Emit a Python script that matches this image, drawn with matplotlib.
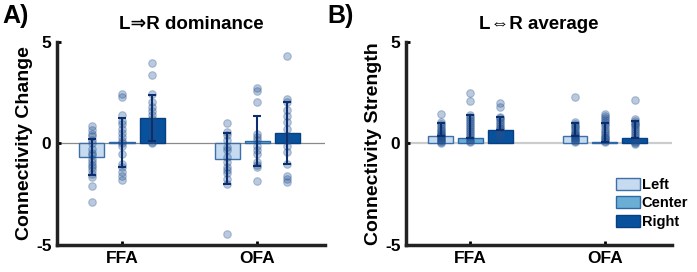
import matplotlib.pyplot as plt
import numpy as np

# fonts: Arial-like bold, fallback to DejaVu for the arrows
plt.rcParams['font.family'] = ['Liberation Sans', 'DejaVu Sans']
plt.rcParams['font.weight'] = 'bold'

regions = ["FFA", "OFA"]
conditions = ["Left", "Center", "Right"]
colors = ["#c6dbef", "#6aaed6", "#08519c"]
edge_colors = ["#3d6fa8", "#2f68a6", "#083f80"]

# A) L=>R dominance: bar means, sd, single subjects
dom_mean = [[-0.67, 0.05, 1.27], [-0.75, 0.13, 0.52]]
dom_sd = [[0.9, 1.2, 1.13], [1.25, 1.22, 1.53]]
dom_ffa_left = [0.85, 0.67, 0.46, 0.38, 0.15, 0.0, -0.26, -0.45, -0.59, -0.75, -0.92, -1.05, -1.17, -1.33, -1.5, -1.66, -2.07, -2.86]
dom_ffa_center = [2.45, 2.28, 1.38, 1.13, 0.94, 0.72, 0.5, 0.31, 0.1, 0.0, -0.1, -0.51, -1.0, -1.17, -1.41, -1.61, -1.79]
dom_ffa_right = [3.97, 3.38, 2.45, 2.03, 1.82, 1.6, 1.4, 1.2, 1.0, 0.8, 0.6, 0.4, 0.2, 0.05, 0.0]
dom_ofa_left = [1.0, 0.56, 0.4, 0.15, -0.18, -0.3, -0.67, -0.9, -1.17, -1.33, -1.45, -1.74, -2.0, -4.45]
dom_ofa_center = [2.74, 2.58, 2.03, 0.48, 0.31, 0.15, -0.1, -0.34, -0.51, -0.92, -1.08, -1.17, -1.86]
dom_ofa_right = [4.29, 2.2, 2.03, 1.63, 1.33, 1.05, 0.72, 0.39, 0.15, -0.1, -0.43, -1.0, -1.58, -1.74, -1.9]

# B) L<=>R average
avg_mean = [[0.38, 0.27, 0.66], [0.38, 0.08, 0.27]]
avg_err = [[0.65, 1.15, 0.65], [0.65, 0.95, 0.85]]
avg_ffa_left = [1.45, 1.05, 0.95, 0.85, 0.75, 0.65, 0.6, 0.5, 0.45, 0.4, 0.35, 0.3, 0.25, 0.2, 0.15, 0.1, 0.05, 0.02]
avg_ffa_center = [2.5, 2.11, 1.4, 1.3, 1.2, 1.1, 1.0, 0.9, 0.8, 0.7, 0.6, 0.5, 0.4, 0.3, 0.2, 0.1, 0.05]
avg_ffa_right = [2.0, 1.78, 1.32, 1.25, 1.15, 1.05, 0.95, 0.85, 0.75, 0.7, 0.6, 0.55, 0.5, 0.45, 0.4, 0.3]
avg_ofa_left = [2.28, 1.04, 0.95, 0.88, 0.8, 0.7, 0.6, 0.5, 0.45, 0.4, 0.35, 0.3, 0.25, 0.2, 0.15, 0.1, 0.05]
avg_ofa_center = [1.45, 1.35, 1.25, 1.15, 1.05, 0.95, 0.85, 0.7, 0.6, 0.5, 0.4, 0.3, 0.25, 0.2, 0.1, 0.05]
avg_ofa_right = [2.16, 1.2, 1.1, 1.0, 0.95, 0.9, 0.8, 0.7, 0.6, 0.5, 0.4, 0.3, 0.2, 0.1, 0.05, 0.0, -0.03]

dom_points = [[dom_ffa_left, dom_ffa_center, dom_ffa_right],
              [dom_ofa_left, dom_ofa_center, dom_ofa_right]]
avg_points = [[avg_ffa_left, avg_ffa_center, avg_ffa_right],
              [avg_ofa_left, avg_ofa_center, avg_ofa_right]]

offsets = [-0.222, 0.0, 0.222]
bar_w = 0.185


def draw_panel(ax, means, errs, points, title, ylabel, zero_color, zero_lw, upper_only):
    ax.axhline(0, color=zero_color, lw=zero_lw, zorder=1)
    for g in range(len(regions)):
        for c in range(len(conditions)):
            x = g + 1 + offsets[c]
            ax.bar(x, means[g][c], width=bar_w, color=colors[c], edgecolor=edge_colors[c],
                   linewidth=1.0, zorder=2, label=conditions[c] if g == 0 else None)
            pts = points[g][c]
            ax.scatter(np.full(len(pts), x), pts, s=30, color="#1f4f8f", alpha=0.3,
                       edgecolors="#1f4f8f", linewidths=0.8, zorder=3)
            if upper_only:
                yerr = [[0], [errs[g][c]]]
            else:
                yerr = errs[g][c]
            ax.errorbar(x, means[g][c], yerr=yerr, color="#0b2f6e", lw=1.5,
                        capsize=3, capthick=1.5, zorder=4)

    ax.set_xlim(0.52, 2.5)
    ax.set_ylim(-5, 5)
    ax.set_xticks([1, 2])
    ax.set_xticklabels(regions, fontsize=12.5, fontweight="bold")
    ax.set_yticks([-5, 0, 5])
    ax.set_yticklabels(["-5", "0", "5"], fontsize=12.5, fontweight="bold")
    ax.tick_params(direction="in", length=3, width=2, pad=4)
    ax.spines["top"].set_visible(False)
    ax.spines["right"].set_visible(False)
    ax.spines["left"].set_linewidth(2.5)
    ax.spines["bottom"].set_linewidth(2.5)
    ax.spines["left"].set_color("#222222")
    ax.spines["bottom"].set_color("#222222")
    ax.set_title(title, fontsize=13.5, fontweight="bold", pad=9)
    ax.set_ylabel(ylabel, fontsize=14, fontweight="bold", labelpad=2)


fig = plt.figure(figsize=(6.97, 2.72), dpi=100)
axA = fig.add_axes([0.0818, 0.0993, 0.3845, 0.7463])
axB = fig.add_axes([0.5825, 0.0993, 0.3815, 0.7463])

draw_panel(axA, dom_mean, dom_sd, dom_points, "L\u21d2R dominance", "Connectivity Change",
           "#8a8a8a", 0.9, False)
draw_panel(axB, avg_mean, avg_err, avg_points, "L\u21d4R average", "Connectivity Strength",
           "#cccccc", 1.6, True)

axB.legend(loc="lower right", bbox_to_anchor=(1.10, 0.03), frameon=False,
           prop={"size": 10.5, "weight": "bold"}, handlelength=1.65, handleheight=0.9,
           handletextpad=0.15, labelspacing=0.3, borderpad=0.2)

fig.text(0.003, 0.985, "A)", fontsize=18, fontweight="bold", va="top", ha="left")
fig.text(0.470, 0.985, "B)", fontsize=18, fontweight="bold", va="top", ha="left")

fig.savefig("out.png", dpi=100)
